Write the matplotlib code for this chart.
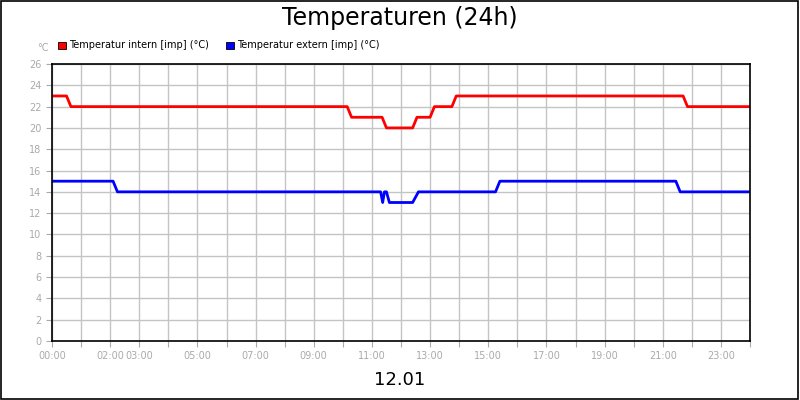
import matplotlib
matplotlib.use("Agg")
import matplotlib.pyplot as plt
from matplotlib.patches import Rectangle

# hours, values
red_h = [0, 0.5, 0.65, 10.15, 10.3, 11.35, 11.5, 12.4, 12.55, 13.0, 13.15, 13.75, 13.9, 21.7, 21.85, 24]
red_v = [23, 23, 22, 22, 21, 21, 20, 20, 21, 21, 22, 22, 23, 23, 22, 22]
blue_h = [0, 2.1, 2.25, 11.3, 11.37, 11.43, 11.5, 11.6, 12.4, 12.6, 15.25, 15.4, 21.45, 21.6, 24]
blue_v = [15, 15, 14, 14, 13, 14, 14, 13, 13, 14, 14, 15, 15, 14, 14]
tick_hours = [0, 2, 3, 5, 7, 9, 11, 13, 15, 17, 19, 21, 23]
tick_labels = ["00:00", "02:00", "03:00", "05:00", "07:00", "09:00", "11:00", "13:00",
               "15:00", "17:00", "19:00", "21:00", "23:00"]
series_names = ["Temperatur intern [imp] (°C)", "Temperatur extern [imp] (°C)"]
colors = ["#ff0000", "#0000ff"]

fig = plt.figure(figsize=(8, 4), dpi=100)
fig.patches.append(Rectangle((0.001, 0.002), 0.997, 0.996, transform=fig.transFigure,
                             fill=False, edgecolor="black", lw=1.2))
ax = fig.add_axes([0.065, 0.1475, 0.8725, 0.6925])
ax.plot(red_h, red_v, color=colors[0], lw=2)
ax.plot(blue_h, blue_v, color=colors[1], lw=2)
ax.set_xlim(0, 24)
ax.set_ylim(0, 26)
ax.set_yticks(range(0, 27, 2))
ax.set_xticks(range(0, 25), minor=False)
ax.set_xticklabels([tick_labels[tick_hours.index(h)] if h in tick_hours else "" for h in range(25)])
ax.grid(True, color="#c4c4c4", lw=1)
ax.set_axisbelow(True)
ax.tick_params(colors="#aaaaaa", labelcolor="#aaaaaa", labelsize=7, length=4)
for s in ax.spines.values():
    s.set_color("black")
    s.set_linewidth(1.2)
fig.text(0.5, 0.955, "Temperaturen (24h)", ha="center", va="center", fontsize=17)
fig.text(0.5, 0.05, "12.01", ha="center", va="center", fontsize=13)
fig.text(0.047, 0.88, "°C", ha="left", va="center", fontsize=7, color="#aaaaaa")
xs = [0.073, 0.283]
for x, n, c in zip(xs, series_names, colors):
    fig.patches.append(Rectangle((x, 0.878), 0.009, 0.018, transform=fig.transFigure,
                                 facecolor=c, edgecolor="black", lw=0.6))
    fig.text(x + 0.013, 0.888, n, ha="left", va="center", fontsize=7)
fig.savefig("out.png", dpi=100)
